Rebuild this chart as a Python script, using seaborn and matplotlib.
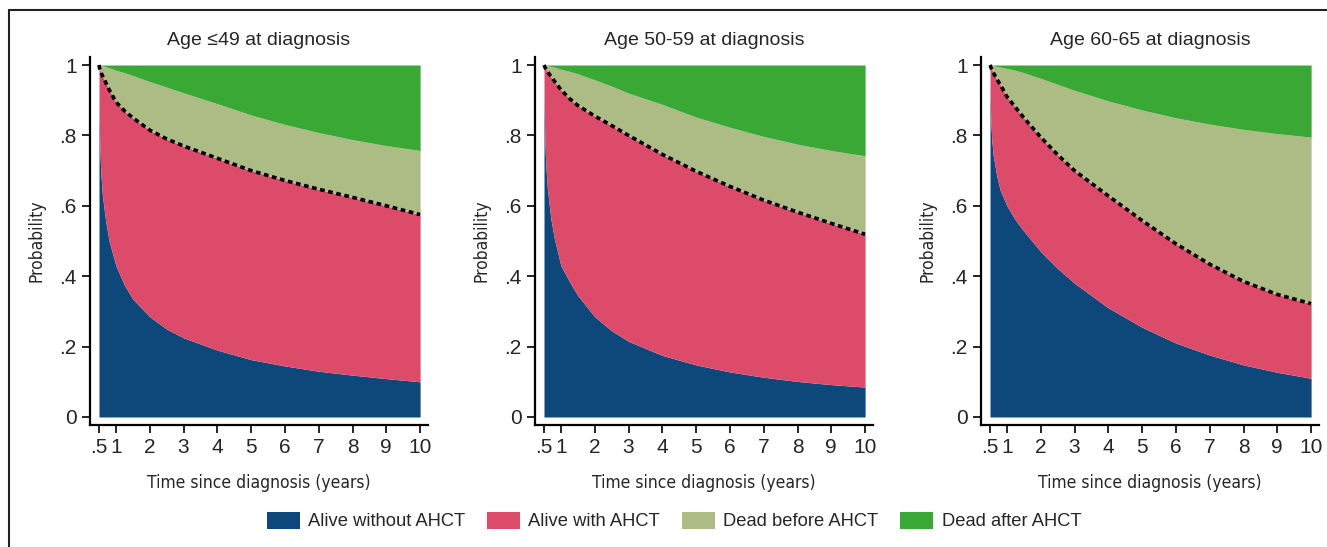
import numpy as np
import seaborn as sns
import matplotlib.pyplot as plt
from matplotlib.patches import Patch
from matplotlib.lines import Line2D
from matplotlib import font_manager

# time grid (years since diagnosis)
t = [0.5, 0.51, 0.52, 0.55, 0.6, 0.7, 0.8, 1, 1.25, 1.5, 2, 2.5, 3, 4, 5, 6, 7, 8, 9, 10]

titles = ['Age \u226449 at diagnosis', 'Age 50-59 at diagnosis', 'Age 60-65 at diagnosis']

# cumulative boundaries
# alive without AHCT
blue = [
    [1.0, 0.85, 0.78, 0.70, 0.63, 0.555, 0.50, 0.43, 0.375, 0.335, 0.285, 0.25, 0.225, 0.19, 0.163, 0.145, 0.13, 0.119, 0.109, 0.10],
    [1.0, 0.87, 0.80, 0.72, 0.65, 0.565, 0.51, 0.43, 0.385, 0.345, 0.285, 0.245, 0.215, 0.175, 0.148, 0.128, 0.113, 0.101, 0.092, 0.085],
    [1.0, 0.90, 0.85, 0.79, 0.74, 0.685, 0.645, 0.60, 0.56, 0.528, 0.47, 0.422, 0.38, 0.31, 0.255, 0.21, 0.176, 0.148, 0.127, 0.11],
]
# alive (with + without AHCT) - dotted line
alive = [
    [1.0, 0.995, 0.99, 0.98, 0.97, 0.95, 0.93, 0.895, 0.87, 0.85, 0.815, 0.79, 0.77, 0.735, 0.70, 0.672, 0.647, 0.624, 0.60, 0.575],
    [1.0, 0.998, 0.995, 0.99, 0.982, 0.968, 0.955, 0.93, 0.905, 0.885, 0.855, 0.828, 0.80, 0.746, 0.698, 0.655, 0.616, 0.582, 0.55, 0.519],
    [1.0, 0.998, 0.995, 0.988, 0.978, 0.96, 0.945, 0.91, 0.88, 0.85, 0.795, 0.745, 0.70, 0.628, 0.558, 0.492, 0.434, 0.385, 0.348, 0.322],
]
# 1 - dead after AHCT
top = [
    [1.0, 1.0, 1.0, 0.999, 0.998, 0.995, 0.992, 0.985, 0.978, 0.97, 0.953, 0.937, 0.921, 0.89, 0.858, 0.831, 0.808, 0.788, 0.771, 0.757],
    [1.0, 1.0, 1.0, 0.999, 0.998, 0.996, 0.994, 0.988, 0.982, 0.975, 0.958, 0.94, 0.92, 0.888, 0.852, 0.823, 0.797, 0.775, 0.757, 0.742],
    [1.0, 1.0, 1.0, 0.999, 0.998, 0.996, 0.994, 0.99, 0.985, 0.978, 0.962, 0.945, 0.928, 0.898, 0.872, 0.85, 0.832, 0.817, 0.805, 0.795],
]

states = ['Alive without AHCT', 'Alive with AHCT', 'Dead before AHCT', 'Dead after AHCT']
colors = ['#0E487A', '#DC4C6A', '#ADBC85', '#3AA835']

xticks = [0.5, 1, 2, 3, 4, 5, 6, 7, 8, 9, 10]
xticklabels = ['.5', '1', '2', '3', '4', '5', '6', '7', '8', '9', '10']
yticks = [0, 0.2, 0.4, 0.6, 0.8, 1]
yticklabels = ['0', '.2', '.4', '.6', '.8', '1']

sns.set_style('ticks')
plt.rcParams['font.family'] = ['Liberation Sans', 'DejaVu Sans']

# condensed face for the axis labels, if one is installed
cond = None
for f in font_manager.fontManager.ttflist:
    if f.stretch in ('condensed', 'semi-condensed') and f.style == 'normal' and f.weight in (400, 'normal', 'regular'):
        cond = f.fname
        break
if cond is not None:
    lab_font = dict(fontproperties=font_manager.FontProperties(fname=cond, size=12.5))
else:
    lab_font = dict(fontsize=12)

W, H = 1327, 547
fig = plt.figure(figsize=(W / 100, H / 100), dpi=100)

x05 = [99, 544, 990]
ppy = 33.8  # px per year
for i in range(3):
    left_px = x05[i] - 9
    width_px = 9.5 * ppy + 17
    ax = fig.add_axes([left_px / W, (H - 425) / H, width_px / W, 368 / H])
    tb = np.array(t)
    b = np.array(blue[i]); a = np.array(alive[i]); tp = np.array(top[i])
    ax.fill_between(tb, 0, b, color=colors[0], lw=0)
    ax.fill_between(tb, b, a, color=colors[1], lw=0)
    ax.fill_between(tb, a, tp, color=colors[2], lw=0)
    ax.fill_between(tb, tp, 1, color=colors[3], lw=0)
    sns.lineplot(x=t, y=alive[i], ax=ax, color='black', lw=2.6,
                 linestyle=(0, (1.3, 1.0)), dash_capstyle='butt')
    ax.set_xlim(0.5 - 9 / ppy, 10 + 8 / ppy)
    ax.set_ylim(-8 / 352, 1 + 8 / 352)
    ax.set_xticks(xticks)
    ax.set_xticklabels(xticklabels, fontsize=15)
    ax.set_yticks(yticks)
    ax.set_yticklabels(yticklabels, fontsize=15)
    ax.tick_params(direction='out', length=5.5, width=1.2, color='black', pad=4)
    sns.despine(ax=ax)
    for s in ['left', 'bottom']:
        ax.spines[s].set_linewidth(1.6)
        ax.spines[s].set_color('black')
    ax.set_xlabel('Time since diagnosis (years)', labelpad=12, **lab_font)
    ax.set_ylabel('Probability', labelpad=10, **lab_font)
    ax.set_title(titles[i], fontsize=14, pad=9)

handles = [Patch(facecolor=c, edgecolor='none') for c in colors]
fig.legend(handles, states, loc='center', bbox_to_anchor=(674 / W, 1 - 521 / H),
           ncol=4, frameon=False, fontsize=13.2, handlelength=1.8, handleheight=1.05,
           handletextpad=0.45, columnspacing=1.2)

# outer frame (top and left edges)
fig.add_artist(Line2D([9 / W, 1], [1 - 10 / H, 1 - 10 / H], color='#222222', lw=1.5))
fig.add_artist(Line2D([9 / W, 9 / W], [0, 1 - 10 / H], color='#222222', lw=1.5))

fig.savefig('out.png', dpi=100)
